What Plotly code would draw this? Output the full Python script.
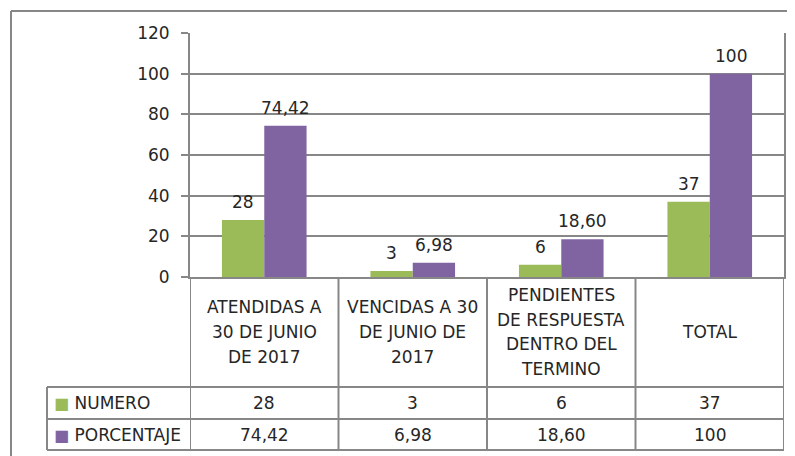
import plotly.graph_objects as go

categories = ["ATENDIDAS A<br>30 DE JUNIO<br>DE 2017",
              "VENCIDAS A 30<br>DE JUNIO DE<br>2017",
              "PENDIENTES<br>DE RESPUESTA<br>DENTRO DEL<br>TERMINO",
              "TOTAL"]
numero = [28, 3, 6, 37]
porcentaje = [74.42, 6.98, 18.60, 100]
series_names = ["NUMERO", "PORCENTAJE"]
y_ticks = [0, 20, 40, 60, 80, 100, 120]

GREEN = "#9BBB59"
PURPLE = "#8064A2"
GRID = "#878787"
TXT = "#262626"
FONT = "DejaVu Sans"
OFF = 8  # page body margin
W, H = 795, 456
L, R, T, B = 182, 19, 25, 187
BARGAP = 0.43


def fmt_num(v):
    return str(int(v)) if float(v).is_integer() else f"{v:.0f}"


def fmt_pct(v):
    return str(int(v)) if float(v) == 100 else f"{v:.2f}".replace(".", ",")


xs = list(range(len(categories)))
plot_w = W - L - R
plot_h = H - T - B


def py(screen_y):
    return ((H - B) - (screen_y - OFF)) / plot_h


def px(screen_x):
    return ((screen_x - OFF) - L) / plot_w


fig = go.Figure()
fig.add_trace(go.Bar(x=xs, y=numero, name=series_names[0], marker_color=GREEN,
                     marker_line_width=0, showlegend=False))
fig.add_trace(go.Bar(x=xs, y=porcentaje, name=series_names[1], marker_color=PURPLE,
                     marker_line_width=0, showlegend=False))

shapes = []
annotations = []
line = dict(color=GRID, width=2)

# outer chart frame
shapes.append(dict(type="line", xref="paper", yref="paper", x0=px(11), x1=px(W + 20),
                   y0=py(11), y1=py(11), line=line))
shapes.append(dict(type="line", xref="paper", yref="paper", x0=px(11), x1=px(11),
                   y0=py(11), y1=py(H + 20), line=line))

row_top = py(387)
row_mid = py(419)
row_bot = py(450)
tbl_left = px(47)

# table vertical lines at category boundaries
for i in range(len(categories) + 1):
    shapes.append(dict(type="line", xref="x", yref="paper", x0=i - 0.5, x1=i - 0.5,
                       y0=0, y1=row_bot, line=line))
shapes.append(dict(type="line", xref="paper", yref="paper", x0=tbl_left, x1=tbl_left,
                   y0=row_top, y1=row_bot, line=line))
for yy in (row_top, row_mid, row_bot):
    shapes.append(dict(type="line", xref="paper", yref="paper", x0=tbl_left, x1=1,
                       y0=yy, y1=yy, line=line))

# header row labels (one annotation per text line, Excel-like line spacing)
LINE_SP = 24.6
for i, c in enumerate(categories):
    parts = c.split("<br>")
    n = len(parts)
    for k, part in enumerate(parts):
        annotations.append(dict(x=i, y=py(332), xref="x", yref="paper", text=part,
                                showarrow=False, font=dict(family=FONT, size=17, color=TXT),
                                align="center", yanchor="middle",
                                yshift=-(k - (n - 1) / 2) * LINE_SP))
# value rows
for i in xs:
    annotations.append(dict(x=i, y=py(403), xref="x", yref="paper", text=fmt_num(numero[i]),
                            showarrow=False, font=dict(family=FONT, size=17, color=TXT),
                            yanchor="middle"))
    annotations.append(dict(x=i, y=py(434.5), xref="x", yref="paper", text=fmt_pct(porcentaje[i]),
                            showarrow=False, font=dict(family=FONT, size=17, color=TXT),
                            yanchor="middle"))
# legend keys in table
for name, col, yy in ((series_names[0], GREEN, py(403)), (series_names[1], PURPLE, py(434.5))):
    annotations.append(dict(x=px(52), y=yy, xref="paper", yref="paper", xanchor="left",
                            text=f"<span style='color:{col};font-size:16px'>■</span> {name}",
                            showarrow=False, font=dict(family=FONT, size=17, color=TXT),
                            yanchor="middle"))

# data labels above bars
off = (1 - BARGAP) / 4
for i in xs:
    annotations.append(dict(x=i - off, y=numero[i], xref="x", yref="y", text=fmt_num(numero[i]),
                            showarrow=False, yanchor="bottom", yshift=6,
                            font=dict(family=FONT, size=17, color=TXT)))
    annotations.append(dict(x=i + off, y=porcentaje[i], xref="x", yref="y", text=fmt_pct(porcentaje[i]),
                            showarrow=False, yanchor="bottom", yshift=6,
                            font=dict(family=FONT, size=17, color=TXT)))

fig.update_layout(
    width=W, height=H,
    margin=dict(l=L, r=R, t=T, b=B),
    paper_bgcolor="white", plot_bgcolor="white",
    barmode="group", bargap=BARGAP, bargroupgap=0,
    font=dict(family=FONT, size=17, color=TXT),
    shapes=shapes, annotations=annotations,
    xaxis=dict(range=[-0.5, len(categories) - 0.5], showticklabels=False, showgrid=False,
               zeroline=False, showline=True, linecolor=GRID, linewidth=2, ticks=""),
    yaxis=dict(range=[0, 120], tickvals=y_ticks, showgrid=True, gridcolor=GRID, gridwidth=1.5,
               zeroline=False, showline=True, linecolor=GRID, linewidth=2, mirror=True,
               ticks="outside", ticklen=7, tickcolor=GRID, tickwidth=2, ticklabelstandoff=8,
               tickfont=dict(family=FONT, size=17, color=TXT)),
)

fig.write_html("out.html")
